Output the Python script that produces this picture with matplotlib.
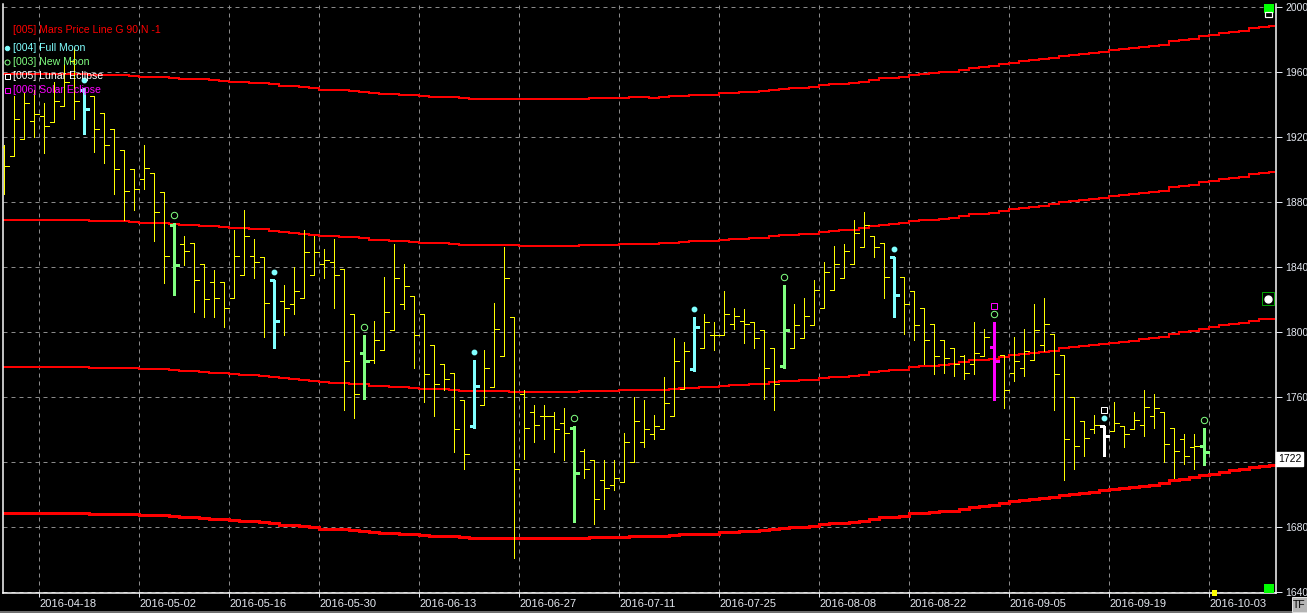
import numpy as np
import matplotlib
matplotlib.use("Agg")
import matplotlib.pyplot as plt
from matplotlib.patches import Rectangle
from matplotlib.lines import Line2D

plt.rcParams["font.family"] = ["Liberation Sans", "DejaVu Sans"]

W, H = 1307, 613
PX = 72 / 100  # one pixel in points

# daily OHLC, one value per bar (bar index 0..120)
opens = [
    1914, 1908, 1919, 1930, 1933, 1929, 1939, 1967, 1949, 1945,
    1935, 1925, 1912, 1900, 1894, 1898, 1886, 1866, 1854, 1855,
    1842, 1831, 1831, 1821, 1835, 1847, 1846, 1832, 1819, 1817,
    1821, 1835, 1842, 1843, 1839, 1811, 1787, 1783, 1789, 1801,
    1817, 1822, 1811, 1792, 1780, 1775, 1758, 1742, 1755, 1766,
    1785, 1809, 1762, 1751, 1748, 1748, 1744, 1741, 1727, 1721,
    1709, 1706, 1708, 1720, 1732, 1737, 1740, 1748, 1765, 1777,
    1790, 1798, 1798, 1805, 1807, 1806, 1801, 1790, 1779, 1790,
    1796, 1804, 1815, 1826, 1833, 1842, 1852, 1859, 1855, 1846,
    1834, 1825, 1815, 1805, 1795, 1790, 1785, 1780, 1785, 1791,
    1786, 1775, 1778, 1783, 1792, 1799, 1786, 1760, 1745, 1740,
    1742, 1739, 1742, 1740, 1743, 1748, 1751, 1741, 1734, 1729,
    1730]
highs = [
    1915, 1945, 1947, 1949, 1941, 1954, 1965, 1975, 1950, 1945,
    1935, 1925, 1912, 1900, 1915, 1898, 1886, 1867, 1859, 1855,
    1842, 1838, 1831, 1863, 1875, 1857, 1846, 1832, 1829, 1840,
    1863, 1859, 1851, 1857, 1839, 1811, 1798, 1807, 1834, 1854,
    1842, 1822, 1811, 1792, 1780, 1775, 1758, 1783, 1789, 1818,
    1852, 1809, 1764, 1755, 1755, 1751, 1753, 1742, 1728, 1721,
    1721, 1721, 1738, 1760, 1758, 1749, 1772, 1796, 1794, 1809,
    1811, 1806, 1825, 1815, 1814, 1806, 1801, 1790, 1829, 1817,
    1821, 1832, 1843, 1853, 1854, 1869, 1874, 1859, 1855, 1846,
    1834, 1825, 1815, 1805, 1795, 1790, 1786, 1806, 1802, 1806,
    1786, 1797, 1802, 1817, 1821, 1799, 1786, 1760, 1745, 1749,
    1742, 1757, 1742, 1751, 1764, 1762, 1751, 1741, 1737, 1737,
    1741]
lows = [
    1885, 1908, 1919, 1920, 1910, 1929, 1939, 1931, 1922, 1911,
    1904, 1885, 1869, 1875, 1888, 1856, 1830, 1823, 1841, 1812,
    1809, 1809, 1803, 1821, 1835, 1833, 1797, 1790, 1798, 1811,
    1821, 1835, 1833, 1815, 1752, 1747, 1759, 1781, 1789, 1801,
    1814, 1778, 1757, 1748, 1764, 1726, 1716, 1741, 1755, 1766,
    1785, 1661, 1722, 1732, 1734, 1726, 1721, 1683, 1710, 1682,
    1691, 1703, 1708, 1720, 1729, 1734, 1740, 1748, 1765, 1776,
    1790, 1789, 1798, 1802, 1793, 1790, 1759, 1752, 1778, 1790,
    1796, 1804, 1815, 1826, 1833, 1842, 1852, 1846, 1821, 1809,
    1799, 1795, 1780, 1774, 1775, 1773, 1771, 1774, 1785, 1758,
    1753, 1770, 1773, 1783, 1788, 1752, 1709, 1716, 1724, 1738,
    1724, 1739, 1729, 1740, 1736, 1741, 1720, 1710, 1719, 1716,
    1718]
closes = [
    1902, 1931, 1941, 1934, 1927, 1942, 1954, 1942, 1937, 1925,
    1915, 1900, 1887, 1888, 1901, 1874, 1847, 1841, 1850, 1832,
    1820, 1821, 1815, 1847, 1859, 1843, 1818, 1807, 1815, 1825,
    1849, 1849, 1844, 1835, 1782, 1762, 1782, 1795, 1812, 1833,
    1828, 1798, 1774, 1768, 1771, 1740, 1725, 1767, 1778, 1802,
    1833, 1716, 1741, 1743, 1748, 1740, 1738, 1713, 1716, 1697,
    1704, 1710, 1732, 1745, 1740, 1742, 1756, 1782, 1788, 1803,
    1806, 1798, 1811, 1810, 1805, 1796, 1778, 1768, 1801, 1804,
    1810, 1826, 1837, 1842, 1850, 1861, 1866, 1852, 1834, 1823,
    1817, 1804, 1795, 1785, 1784, 1780, 1775, 1787, 1797, 1782,
    1764, 1782, 1788, 1801, 1805, 1774, 1734, 1730, 1735, 1743,
    1736, 1744, 1737, 1746, 1754, 1753, 1731, 1727, 1724, 1730,
    1726]

# event bars
full_moon = [8, 27, 47, 69, 89, 110]
new_moon = [17, 36, 57, 78, 99, 120]
lunar_eclipse = [110]
solar_eclipse = [99]

# lowest Mars price line, one value per bar (incl. future bars up to 127)
mars_base = [
    1688.7, 1688.7, 1688.7, 1688.7, 1688.7, 1688.7, 1688.7, 1688.7, 1688.7, 1688.1,
    1688.1, 1688.1, 1688.1, 1687.8, 1687.1, 1687.1, 1687.1, 1686.5, 1685.9, 1685.9,
    1685.5, 1685.0, 1684.7, 1684.1, 1683.7, 1683.4, 1683.1, 1682.3, 1681.4, 1681.1,
    1680.5, 1679.9, 1679.0, 1678.8, 1678.6, 1678.3, 1677.7, 1676.9, 1676.6, 1676.2,
    1675.9, 1675.6, 1675.0, 1674.7, 1674.7, 1674.4, 1673.8, 1673.5, 1673.5, 1673.5,
    1673.5, 1673.3, 1673.1, 1673.1, 1673.1, 1673.1, 1673.1, 1673.1, 1673.4, 1673.7,
    1673.7, 1673.7, 1674.0, 1674.3, 1674.3, 1674.2, 1674.5, 1674.9, 1675.5, 1675.7,
    1675.9, 1675.9, 1676.8, 1677.1, 1677.4, 1677.7, 1678.0, 1679.0, 1679.6, 1679.9,
    1680.2, 1680.5, 1681.7, 1682.3, 1682.6, 1682.9, 1683.7, 1685.2, 1686.0, 1686.3,
    1686.8, 1688.4, 1688.8, 1689.2, 1689.8, 1690.0, 1691.3, 1692.5, 1692.8, 1693.4,
    1694.6, 1695.8, 1696.5, 1697.1, 1697.7, 1698.6, 1699.9, 1700.6, 1701.2, 1701.8,
    1702.5, 1703.4, 1704.1, 1704.7, 1705.4, 1706.0, 1706.8, 1708.9, 1709.7, 1710.5,
    1712.0, 1712.9, 1714.0, 1714.8, 1715.4, 1716.9, 1717.8, 1718.2]
mars_step = 90
mars_count = 4

date_labels = ["2016-04-18", "2016-05-02", "2016-05-16", "2016-05-30", "2016-06-13",
               "2016-06-27", "2016-07-11", "2016-07-25", "2016-08-08", "2016-08-22",
               "2016-09-05", "2016-09-19", "2016-10-03"]
date_pos = [3.5, 13.5, 22.5, 31.5, 41.5, 51.5, 61.5, 71.5, 81.5, 90.5, 100.5, 110.5, 120.5]
price_ticks = list(range(1640, 2001, 40))
last_price_label = 1722

YELLOW = "#ffff00"
CYAN = "#80ffff"
GREEN = "#80ff80"
WHITE = "#ffffff"
MAGENTA = "#ff00ff"
RED = "#ff0000"
GRID = "#8a8a8a"
LABEL = "#e4e8f0"


def fx(x):
    return x / W


def fy(y):
    return 1 - y / H


fig = plt.figure(figsize=(W / 100, H / 100), dpi=100)
fig.patch.set_facecolor("black")
ax = fig.add_axes([fx(3), fy(593), (1276 - 3) / W, (593 - 4) / H])
ax.set_facecolor("black")
ax.set_xlim(-0.1, 127.2)
ax.set_ylim(1639.4, 2001.8)

# grid and axes
ax.set_xticks(date_pos)
ax.set_xticklabels(date_labels, ha="left")
ax.set_yticks(price_ticks)
# the last-price box covers the 1720 label, as in the original
ax.set_yticklabels(["" if abs(p - last_price_label) < 10 else str(p) for p in price_ticks])
ax.yaxis.tick_right()
ax.grid(True, color=GRID, lw=PX, linestyle=(0, (4, 4)), zorder=0)
ax.set_axisbelow(True)
ax.tick_params(axis="x", colors=LABEL, length=3, width=PX, pad=1.5, labelsize=8)
ax.tick_params(axis="y", colors=LABEL, length=4, width=PX, pad=2.5, labelsize=7.5)
for s in ["left", "bottom", "right"]:
    ax.spines[s].set_color("white")
    ax.spines[s].set_linewidth(1.5 * PX)
ax.spines["top"].set_visible(False)

# Mars price lines (lowest one drawn heavier)
xs_mars = np.arange(len(mars_base))
base = np.array(mars_base)
for k in range(mars_count):
    ax.step(xs_mars, base + k * mars_step, where="mid", color=RED,
            lw=(3 if k == 0 else 1.5) * PX, antialiased=False, zorder=2)

# OHLC bars
for i in range(len(opens)):
    col, w = YELLOW, 1
    if i in solar_eclipse:
        col, w = MAGENTA, 3
    elif i in lunar_eclipse:
        col, w = WHITE, 3
    elif i in full_moon:
        col, w = CYAN, 3
    elif i in new_moon:
        col, w = GREEN, 3
    kw = dict(color=col, lw=w * PX, antialiased=False, zorder=3)
    ax.vlines(i, lows[i], highs[i], **kw)
    ax.hlines(opens[i], i - 0.45, i, **kw)
    ax.hlines(closes[i], i, i + 0.45, **kw)

# event markers above the bars
gap = 8 / 1.625
for i in range(len(opens)):
    level = 1
    if i in full_moon:
        ax.plot(i, highs[i] + gap * level, "o", ms=3.2, color=CYAN, mec=CYAN, zorder=4)
        level += 1
    if i in new_moon:
        ax.plot(i, highs[i] + gap * level, "o", ms=4.6, mfc="none", mec=GREEN, mew=PX, zorder=4)
        level += 1
    if i in lunar_eclipse:
        ax.plot(i, highs[i] + gap * level, "s", ms=4.8, mfc="none", mec=WHITE, mew=PX, zorder=4)
        level += 1
    if i in solar_eclipse:
        ax.plot(i, highs[i] + gap * level, "s", ms=4.8, mfc="none", mec=MAGENTA, mew=PX, zorder=4)
        level += 1

# last price label
ax.text(1.0015, last_price_label, f"{last_price_label}", transform=ax.get_yaxis_transform(),
        ha="left", va="center", fontsize=7.5, color="black", zorder=6, clip_on=False,
        bbox=dict(boxstyle="square,pad=0.2", facecolor="white", edgecolor="white"))

# legend
legend_rows = [
    ("[005] Mars Price Line G 90 N -1", RED, None, 30),
    ("[004] Full Moon", CYAN, ("o", True), 48),
    ("[003] New Moon", GREEN, ("o", False), 62),
    ("[005] Lunar Eclipse", WHITE, ("s", False), 76),
    ("[006] Solar Eclipse", MAGENTA, ("s", False), 90),
]
for text, col, mk, y in legend_rows:
    fig.text(fx(13), fy(y), text, color=col, fontsize=7.6, va="center", ha="left", zorder=7)
    if mk is not None:
        m, filled = mk
        fig.add_artist(Line2D([fx(7)], [fy(y)], marker=m, ms=3.2 if filled else 3.6,
                              color=col, mfc=col if filled else "none", mec=col, mew=PX,
                              transform=fig.transFigure, zorder=7))

# right edge widgets
fig.add_artist(Rectangle((fx(1264), fy(13)), 10 / W, 9 / H, facecolor="#00ff00",
                         edgecolor="none", transform=fig.transFigure))
fig.add_artist(Rectangle((fx(1264), fy(593)), 10 / W, 9 / H, facecolor="#00ff00",
                         edgecolor="none", transform=fig.transFigure))
fig.add_artist(Rectangle((fx(1265), fy(17)), 7 / W, 5 / H, facecolor="black",
                         edgecolor="white", lw=1.2 * PX, transform=fig.transFigure))
fig.add_artist(Rectangle((fx(1262), fy(305)), 12 / W, 13 / H, facecolor="black",
                         edgecolor="#00a000", lw=PX, transform=fig.transFigure))
fig.add_artist(Line2D([fx(1268)], [fy(298.5)], marker="o", ms=5, mfc="white", mec="white",
                      transform=fig.transFigure))
fig.add_artist(Rectangle((fx(1212), fy(596)), 5 / W, 6 / H, facecolor=YELLOW,
                         edgecolor="none", transform=fig.transFigure))

# TF button and bottom frame
fig.add_artist(Rectangle((fx(1292), fy(612)), 15 / W, 15 / H, facecolor="#b4b4b4",
                         edgecolor="#e0e0e0", lw=PX, transform=fig.transFigure))
fig.text(fx(1299.5), fy(604.5), "TF", color="black", fontsize=7.5, ha="center", va="center")
fig.add_artist(Rectangle((0, 0), 1292 / W, 2.5 / H, facecolor="#6e6e6e",
                         edgecolor="none", transform=fig.transFigure))

fig.savefig("out.png", dpi=100, facecolor="black")
